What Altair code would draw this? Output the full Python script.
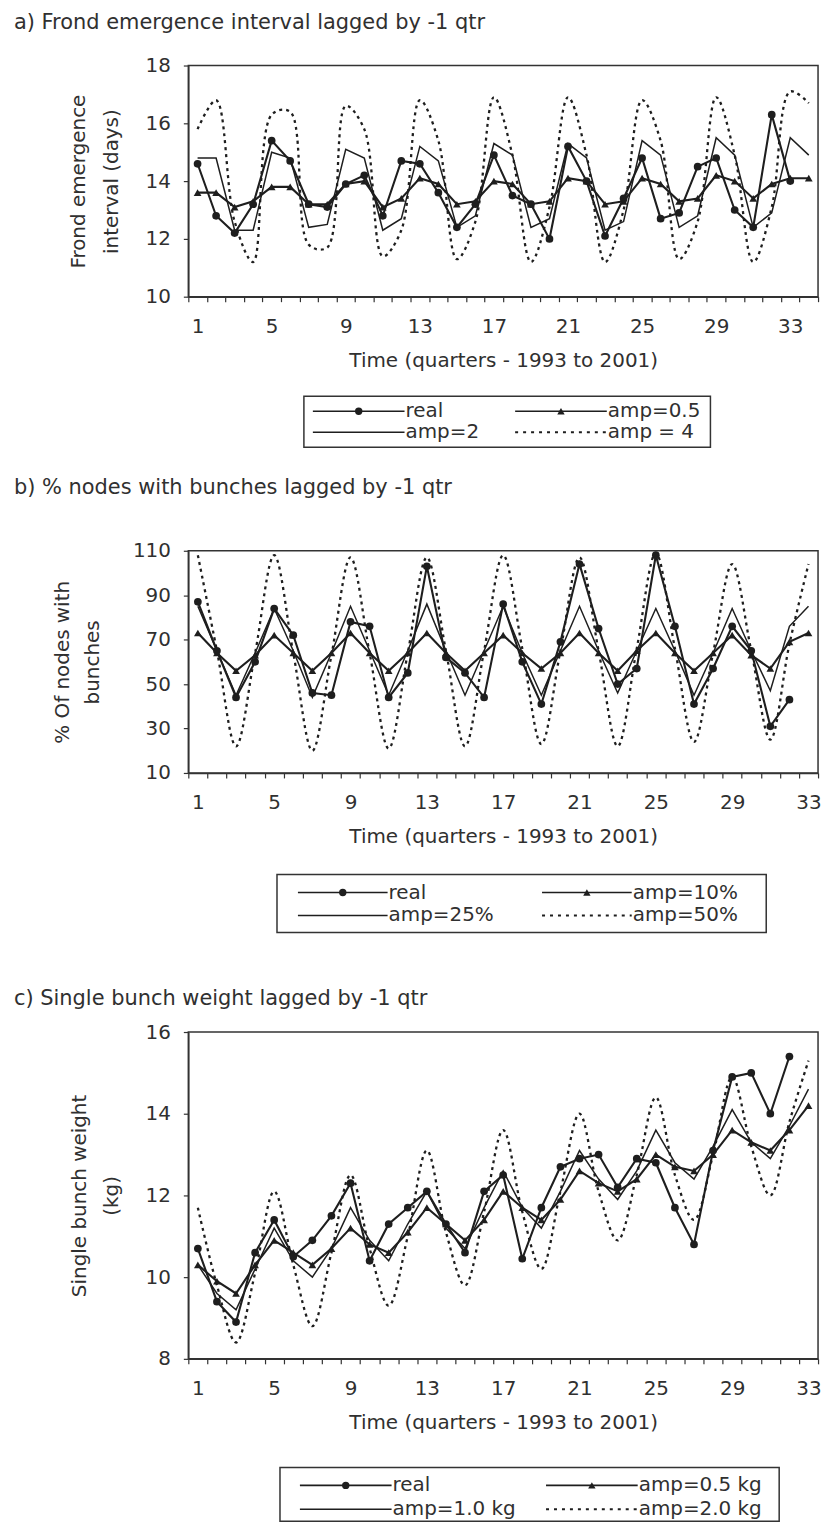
import altair as alt
import pandas as pd

FONT = "DejaVu Sans"
TXT = "#303030"
INK = "#1e1e1e"
FRAME = "#333333"
PLOT_W = 632
XTITLE = "Time (quarters - 1993 to 2001)"

# ---------------- panel a : frond emergence interval ----------------
a_title = "a) Frond emergence interval lagged by -1 qtr"
a_ytitle = ["Frond emergence", "interval (days)"]
a_quarters = 34
a_ydomain = [10, 18]
a_yticks = [10, 12, 14, 16, 18]
a_labels = ["real", "amp=0.5", "amp=2", "amp = 4"]
a_real = [14.6, 12.8, 12.2, 13.2, 15.4, 14.7, 13.2, 13.1, 13.9, 14.2, 12.8, 14.7,
          14.6, 13.6, 12.4, 13.2, 14.9, 13.5, 13.2, 12.0, 15.2, 14.0, 12.1, 13.4,
          14.8, 12.7, 12.9, 14.5, 14.8, 13.0, 12.4, 16.3, 14.0]
a_small = [13.6, 13.6, 13.1, 13.3, 13.8, 13.8, 13.2, 13.2, 13.9, 14.0, 13.1, 13.4,
           14.1, 13.9, 13.2, 13.3, 14.0, 13.9, 13.2, 13.3, 14.1, 14.0, 13.2, 13.3,
           14.1, 13.9, 13.3, 13.4, 14.2, 14.0, 13.4, 13.9, 14.1, 14.1]
a_mid = [14.8, 14.8, 12.3, 12.3, 15.0, 14.8, 12.4, 12.5, 15.1, 14.8, 12.3, 12.7,
         15.2, 14.7, 12.4, 12.8, 15.3, 14.9, 12.4, 12.7, 15.3, 14.8, 12.3, 12.6,
         15.4, 14.9, 12.4, 12.8, 15.5, 14.9, 12.4, 12.9, 15.5, 14.9]
a_big = [15.8, 16.8, 12.6, 11.2, 16.3, 16.4, 11.8, 11.7, 16.6, 15.8, 11.4, 12.3,
         16.8, 15.4, 11.3, 12.6, 16.9, 14.9, 11.2, 13.1, 16.9, 14.9, 11.2, 13.0,
         16.8, 15.4, 11.3, 12.6, 16.9, 14.9, 11.2, 13.1, 17.1, 16.7]

# ---------------- panel b : % nodes with bunches ----------------
b_title = "b) % nodes with bunches lagged by -1 qtr"
b_ytitle = ["% Of nodes with", "bunches"]
b_quarters = 33
b_ydomain = [10, 110]
b_yticks = [10, 30, 50, 70, 90, 110]
b_labels = ["real", "amp=10%", "amp=25%", "amp=50%"]
b_real = [87, 65, 44, 60, 84, 72, 46, 45, 78, 76, 44, 55, 103, 62, 55, 44,
          86, 60, 41, 69, 104, 75, 50, 57, 108, 76, 41, 57, 76, 65, 31, 43]
b_small = [73, 64, 56, 63, 72, 64, 56, 64, 73, 64, 56, 64, 73, 64, 56, 64,
           72, 64, 57, 64, 73, 64, 56, 65, 73, 64, 56, 64, 72, 63, 57, 69, 73]
b_mid = [85, 65, 45, 64, 84, 65, 44, 64, 85, 65, 45, 65, 86, 65, 45, 65,
         85, 64, 45, 65, 85, 65, 46, 65, 84, 65, 45, 64, 84, 65, 47, 76, 85]
b_big = [108, 65, 22, 64, 108, 64, 20, 63, 107, 64, 21, 64, 107, 65, 22, 65,
         108, 66, 23, 65, 107, 65, 22, 66, 109, 66, 24, 64, 104, 65, 25, 68, 104]

# ---------------- panel c : single bunch weight ----------------
c_title = "c) Single bunch weight lagged by -1 qtr"
c_ytitle = ["Single bunch weight", "(kg)"]
c_quarters = 33
c_ydomain = [8, 16]
c_yticks = [8, 10, 12, 14, 16]
c_labels = ["real", "amp=0.5 kg", "amp=1.0 kg", "amp=2.0 kg"]
c_real = [10.7, 9.4, 8.9, 10.6, 11.4, 10.5, 10.9, 11.5, 12.3, 10.4, 11.3, 11.7,
          12.1, 11.3, 10.6, 12.1, 12.5, 10.45, 11.7, 12.7, 12.9, 13.0, 12.2, 12.9,
          12.8, 11.7, 10.8, 13.1, 14.9, 15.0, 14.0, 15.4]
c_small = [10.3, 9.9, 9.6, 10.3, 10.9, 10.6, 10.3, 10.7, 11.2, 10.8, 10.6, 11.1,
           11.7, 11.3, 10.9, 11.4, 12.1, 11.7, 11.4, 11.9, 12.6, 12.3, 12.1, 12.4,
           13.0, 12.7, 12.6, 13.0, 13.6, 13.3, 13.1, 13.6, 14.2]
c_mid = [10.3, 9.6, 9.2, 10.2, 11.2, 10.4, 10.0, 10.7, 11.7, 10.9, 10.4, 11.3,
         12.1, 11.2, 10.7, 11.7, 12.6, 11.7, 11.2, 12.1, 13.1, 12.4, 11.9, 12.6,
         13.6, 12.8, 12.4, 13.2, 14.1, 13.3, 12.9, 13.7, 14.6]
c_big = [11.7, 9.8, 8.4, 10.1, 12.1, 10.3, 8.8, 10.6, 12.5, 10.7, 9.3, 11.0,
         13.1, 11.1, 9.8, 11.6, 13.6, 11.6, 10.2, 12.1, 14.0, 12.1, 10.9, 12.5,
         14.4, 12.5, 11.4, 13.0, 14.9, 13.2, 12.0, 13.8, 15.3]


def frame(vals):
    return pd.DataFrame({"q": list(range(1, len(vals) + 1)), "v": vals})


def panel(nq, real, small, mid, big, ydom, yticks, ytitle, ylh, ypad,
          title, title_off, height):
    half = PLOT_W / nq / 2.0
    xs = alt.Scale(domain=[0.5, nq + 0.5], nice=False, zero=False)
    ys = alt.Scale(domain=ydom, nice=False, zero=False)
    lab_expr = ("(datum.value - 0.5) % 4 == 0 && datum.value < " + str(nq) +
                " ? format(datum.value + 0.5, 'd') : ''")
    xa = alt.Axis(values=[i + 0.5 for i in range(nq + 1)], labelExpr=lab_expr,
                  labelOffset=half, labelFlush=False, labelOverlap=False,
                  grid=False, title=XTITLE, tickSize=5, labelPadding=15,
                  titlePadding=14)
    ya = alt.Axis(values=yticks, grid=False, title=ytitle, titleLineHeight=ylh,
                  titlePadding=ypad, tickSize=5, labelPadding=13)

    def enc(ch):
        return ch.encode(x=alt.X("q:Q", scale=xs, axis=xa),
                         y=alt.Y("v:Q", scale=ys, axis=ya))

    l_big = enc(alt.Chart(frame(big)).mark_line(
        color=INK, strokeWidth=2.3, strokeDash=[3, 4],
        interpolate="catmull-rom", clip=True))
    l_mid = enc(alt.Chart(frame(mid)).mark_line(color=INK, strokeWidth=1.5))
    l_small = enc(alt.Chart(frame(small)).mark_line(color=INK, strokeWidth=2.1))
    p_small = enc(alt.Chart(frame(small)).mark_point(
        shape="triangle-up", filled=True, size=60, color=INK, opacity=1))
    l_real = enc(alt.Chart(frame(real)).mark_line(color=INK, strokeWidth=2.1))
    p_real = enc(alt.Chart(frame(real)).mark_point(
        shape="circle", filled=True, size=60, color=INK, opacity=1))
    return alt.layer(l_big, l_mid, l_small, p_small, l_real, p_real).properties(
        width=PLOT_W, height=height,
        title=alt.TitleParams(text=title, anchor="start", frame="group", dx=-175,
                              offset=title_off, fontSize=21, font=FONT,
                              fontWeight="normal", color=TXT))


def legend(labels, H, box, rows_y, starts, line_len):
    # layout of the legend box in pixels relative to the plot's left edge / chart top
    items = []
    for i, lab in enumerate(labels):
        col, row = i % 2, i // 2
        x0 = starts[col]
        items.append({"lab": lab, "kind": i, "y": rows_y[row], "x0": x0,
                      "x1": x0 + line_len, "xm": x0 + line_len / 2.0})
    df = pd.DataFrame(items)
    bdf = pd.DataFrame([{"bx0": box[0], "bx1": box[1], "by0": box[2], "by1": box[3]}])
    xs = alt.Scale(domain=[0, PLOT_W], nice=False, zero=False)
    ys = alt.Scale(domain=[H, 0], nice=False, zero=False)
    Y = alt.Y("y:Q", scale=ys, axis=None)
    base = alt.Chart(df)
    frame_box = alt.Chart(bdf).mark_rect(fillOpacity=0, stroke=FRAME,
                                         strokeWidth=1.5).encode(
        x=alt.X("bx0:Q", scale=xs, axis=None), x2="bx1:Q",
        y=alt.Y("by0:Q", scale=ys, axis=None), y2="by1:Q")
    solid = base.mark_rule(color=INK, strokeWidth=1.6).encode(
        x=alt.X("x0:Q", scale=xs, axis=None), x2="x1:Q", y=Y
    ).transform_filter("datum.kind < 3")
    dashed = base.mark_rule(color=INK, strokeWidth=2.0, strokeDash=[3, 5]).encode(
        x=alt.X("x0:Q", scale=xs, axis=None), x2="x1:Q", y=Y
    ).transform_filter("datum.kind == 3")
    dot = base.mark_point(shape="circle", filled=True, size=55, color=INK,
                          opacity=1).encode(
        x=alt.X("xm:Q", scale=xs, axis=None), y=Y).transform_filter("datum.kind == 0")
    tri = base.mark_point(shape="triangle-up", filled=True, size=55, color=INK,
                          opacity=1).encode(
        x=alt.X("xm:Q", scale=xs, axis=None), y=Y).transform_filter("datum.kind == 1")
    txt = base.mark_text(align="left", baseline="middle", dx=1, fontSize=20,
                         font=FONT, color=TXT).encode(
        x=alt.X("x1:Q", scale=xs, axis=None), y=Y, text="lab:N")
    return alt.layer(frame_box, solid, dashed, dot, tri, txt).properties(
        width=PLOT_W, height=H, view=alt.ViewBackground(stroke=None))


pa = panel(a_quarters, a_real, a_small, a_mid, a_big, a_ydomain, a_yticks,
           a_ytitle, 33, 24, a_title, 23, 232)
la = legend(a_labels, 55, [116, 524, 0, 51], [15, 36], [125, 328], 92)
pb = panel(b_quarters, b_real, b_small, b_mid, b_big, b_ydomain, b_yticks,
           b_ytitle, 30, 30, b_title, 43, 223)
lb = legend(b_labels, 60, [89, 580, 2, 60], [20, 43], [110, 355], 90)
pc = panel(c_quarters, c_real, c_small, c_mid, c_big, c_ydomain, c_yticks,
           c_ytitle, 32, 24, c_title, 13, 328)
lc = legend(c_labels, 64, [92, 593, 9, 63], [27, 51], [112, 359], 92)

chart = alt.vconcat(pa, la, pb, lb, pc, lc, spacing=100, bounds="flush").properties(
    padding={"left": 13, "top": 8, "right": 0, "bottom": 0}
).configure_view(
    stroke=FRAME, strokeWidth=1.5
).configure_axis(
    labelFont=FONT, labelFontSize=20, labelColor=TXT,
    titleFont=FONT, titleFontSize=20, titleFontWeight="normal", titleColor=TXT,
    domainColor=FRAME, domainWidth=1.5, tickColor=FRAME, tickWidth=1.2
).configure_title(font=FONT, fontSize=21, fontWeight="normal", color=TXT)

chart.save("out.html", embed_options={"renderer": "svg", "actions": False})
